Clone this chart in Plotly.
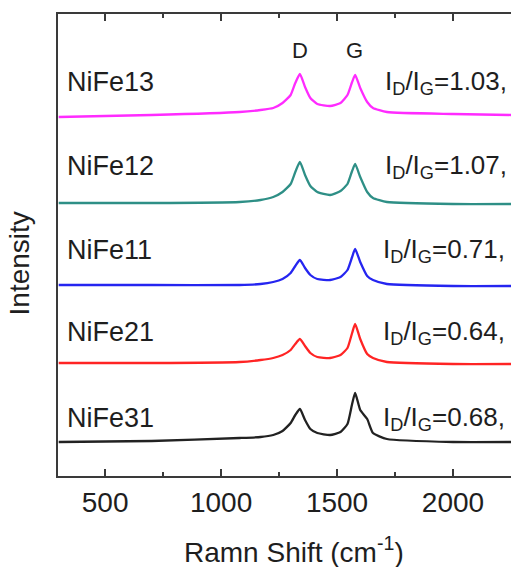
import plotly.graph_objects as go

# Raman shift sample positions (cm^-1)
shift = [300, 700, 1080, 1170, 1225, 1265, 1300, 1320, 1340, 1362, 1385, 1415,
         1470, 1515, 1545, 1565, 1578, 1600, 1630, 1655, 1715, 2000, 2250]

# Stacked intensities (a.u., offsets included)
nife13 = [359, 361, 364, 366, 368, 373, 381, 393, 402, 389, 378, 372, 370, 373, 381, 394, 401, 388, 374, 368, 364, 362, 361]
nife12 = [273, 273, 274, 276, 279, 284, 292, 304, 314, 301, 290, 284, 281, 285, 292, 305, 312, 299, 284, 278, 274, 272, 272]
nife11 = [191, 191, 191, 192, 194, 197, 203, 210, 216, 208, 201, 197, 196, 199, 206, 219, 227, 214, 200, 196, 192, 190, 190]
nife21 = [113, 113, 114, 116, 118, 121, 126, 132, 137, 130, 123, 119, 118, 121, 128, 143, 152, 137, 122, 118, 114, 112, 112]
nife31 = [34, 35, 38, 39, 41, 45, 53, 61, 67, 56, 47, 43, 41, 44, 52, 72, 83, 66, 57, 43, 37, 34, 34]

names = ["NiFe13", "NiFe12", "NiFe11", "NiFe21", "NiFe31"]
series = [nife13, nife12, nife11, nife21, nife31]
colors = ["#ff2bff", "#2e8f86", "#2525f0", "#ff2424", "#222222"]
ratios = ["1.03,", "1.07,", "0.71,", "0.64,", "0.68,"]
label_y = [394, 310, 226, 144, 58]
ratio_x = [1700, 1700, 1688, 1688, 1688]

x_ticks = [500, 1000, 1500, 2000]

fig = go.Figure()
for name, ys, col in zip(names, series, colors):
    fig.add_trace(go.Scatter(x=shift, y=ys, mode="lines", name=name,
                             line=dict(color=col, width=2.3, shape="spline", smoothing=0.5),
                             showlegend=False, hoverinfo="skip"))

font_main = "Liberation Sans, Arial, sans-serif"
txt = "#1e1e1e"
for name, ly, r, rx in zip(names, label_y, ratios, ratio_x):
    fig.add_annotation(x=326, y=ly, text=name, xanchor="left", yanchor="middle",
                       showarrow=False, font=dict(family=font_main, size=27, color=txt))
    fig.add_annotation(x=rx, y=ly, text="I<sub>D</sub>/I<sub>G</sub>=" + r, xanchor="left",
                       yanchor="middle", showarrow=False,
                       font=dict(family=font_main, size=26, color=txt))

fig.add_annotation(x=1340, y=426, text="D", showarrow=False, yanchor="middle",
                   font=dict(family=font_main, size=22, color=txt))
fig.add_annotation(x=1575, y=426, text="G", showarrow=False, yanchor="middle",
                   font=dict(family=font_main, size=22, color=txt))

fig.add_annotation(xref="paper", yref="paper", x=0.521, y=-0.16, text="Ramn Shift (cm<sup>-1</sup>)",
                   showarrow=False, yanchor="middle",
                   font=dict(family=font_main, size=28, color=txt))
fig.add_annotation(xref="paper", yref="paper", x=-0.084, y=0.46, text="Intensity", textangle=-90,
                   showarrow=False, xanchor="center", yanchor="middle",
                   font=dict(family=font_main, size=28, color=txt))

fig.update_layout(
    width=511, height=567,
    margin=dict(l=58, r=0, t=14, b=91),
    paper_bgcolor="white", plot_bgcolor="white",
    xaxis=dict(range=[297, 2250], tickvals=x_ticks, ticks="inside", ticklen=7, tickwidth=2,
               tickcolor="#3a3a3a", showline=True, linecolor="#3a3a3a", linewidth=2, mirror="ticks",
               showgrid=False, zeroline=False,
               tickfont=dict(family=font_main, size=28, color=txt),
               minor=dict(tickvals=[750, 1250, 1750], ticks="inside", ticklen=4, tickwidth=2,
                          tickcolor="#3a3a3a", showgrid=False)),
    yaxis=dict(range=[0, 462], showticklabels=False, ticks="", showline=True, linecolor="#3a3a3a",
               linewidth=2, mirror=False, showgrid=False, zeroline=False),
)

fig.write_html("out.html", config={"displayModeBar": False},
               post_script="document.body.style.margin='0';document.body.style.overflow='hidden';")
